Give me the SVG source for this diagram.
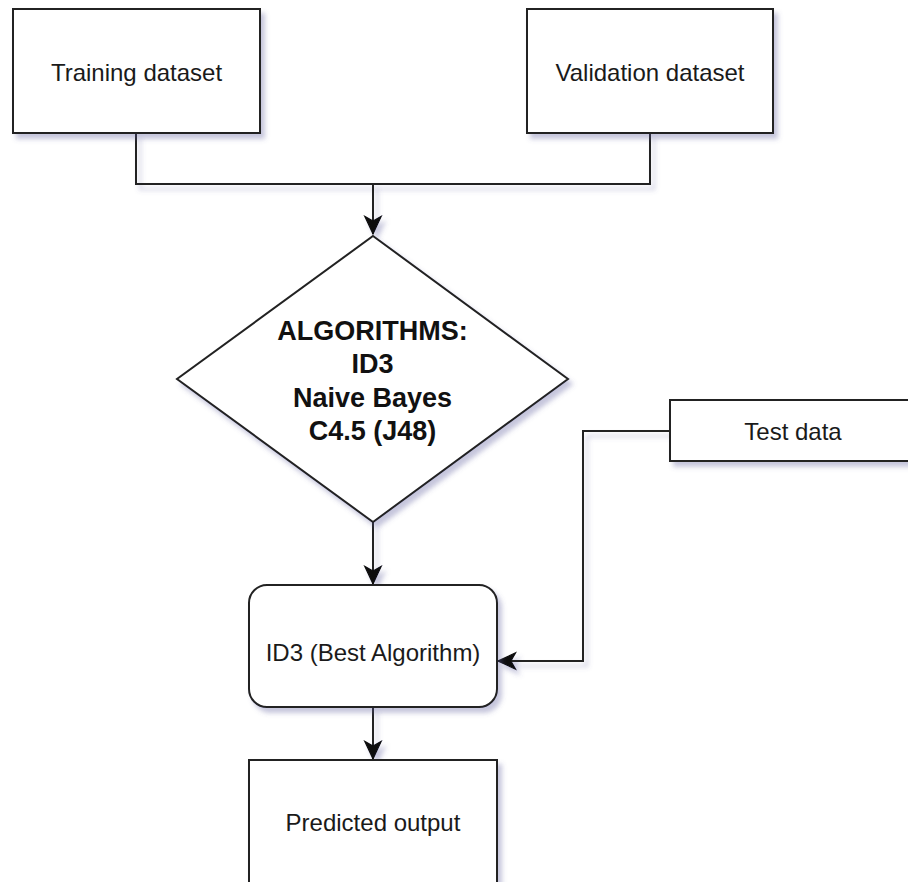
<svg xmlns="http://www.w3.org/2000/svg" width="908" height="882" viewBox="0 0 908 882">
<defs>
<filter id="sh" filterUnits="userSpaceOnUse" x="0" y="0" width="908" height="882">
<feGaussianBlur in="SourceAlpha" stdDeviation="2.5"/>
<feOffset dx="4" dy="5" result="b"/>
<feFlood flood-color="#5a5a9a" flood-opacity="0.35"/>
<feComposite in2="b" operator="in"/>
<feMerge><feMergeNode/><feMergeNode in="SourceGraphic"/></feMerge>
</filter>
<marker id="arr" markerUnits="userSpaceOnUse" markerWidth="20" markerHeight="20" viewBox="-16 -8 17 16" refX="0" refY="0" orient="auto">
<path d="M-15,-7 L0,0 L-15,7 L-11,0 Z" fill="#111" stroke="#111" stroke-width="1"/>
</marker>
</defs>
<style>
.box{fill:#fff;stroke:#222;stroke-width:2;filter:url(#sh)}
.t{font-family:"Liberation Sans",Arial,sans-serif;font-size:24px;fill:#1a1a1a;text-anchor:middle}
.b{font-weight:bold;font-size:27px;fill:#111}
.c{fill:none;stroke:#222;stroke-width:2;filter:url(#sh)}
</style>
<rect width="908" height="882" fill="#fff"/>
<g id="connectors">
<path class="c" d="M136,133 V184 H650 V133"/>
<path class="c" d="M373,184 V234" marker-end="url(#arr)"/>
<path class="c" d="M373,522 V584" marker-end="url(#arr)"/>
<path class="c" d="M670,431 H583 V661 H498" marker-end="url(#arr)"/>
<path class="c" d="M373,707 V759" marker-end="url(#arr)"/>
</g>
<g id="training">
<rect class="box" x="13" y="9" width="247" height="124"/>
<text class="t" x="136.5" y="81">Training dataset</text>
</g>
<g id="validation">
<rect class="box" x="527" y="9" width="246" height="124"/>
<text class="t" x="650" y="81">Validation dataset</text>
</g>
<g id="algorithms">
<polygon class="box" points="373,236 568,379 373,522 177,379"/>
<text class="t b" x="372.5" y="340">ALGORITHMS:</text>
<text class="t b" x="372.5" y="373">ID3</text>
<text class="t b" x="372.5" y="407">Naive Bayes</text>
<text class="t b" x="372.5" y="440">C4.5 (J48)</text>
</g>
<g id="testdata">
<rect class="box" x="670" y="400" width="247" height="61"/>
<text class="t" x="793" y="440">Test data</text>
</g>
<g id="best">
<rect class="box" x="249" y="585" width="248" height="122" rx="18" ry="18"/>
<text class="t" x="373" y="661">ID3 (Best Algorithm)</text>
</g>
<g id="predicted">
<rect class="box" x="249" y="760" width="248" height="140"/>
<text class="t" x="373" y="831">Predicted output</text>
</g>
</svg>
